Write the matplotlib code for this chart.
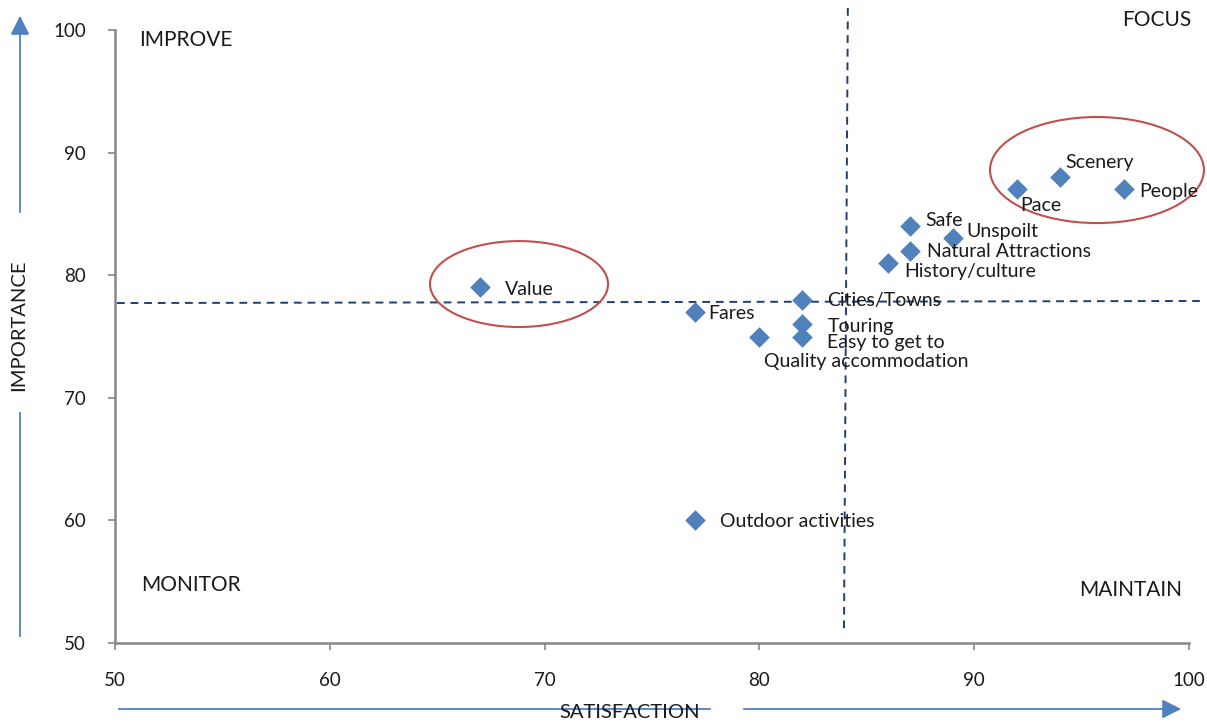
import matplotlib
matplotlib.use("Agg")
import matplotlib.pyplot as plt
from matplotlib.patches import Ellipse, FancyArrowPatch
from matplotlib.lines import Line2D

plt.rcParams['font.family'] = ['Lato', 'DejaVu Sans']

# Attribute scores
attributes = ["Value", "Fares", "Quality accommodation", "Cities/Towns", "Touring",
              "Easy to get to", "Outdoor activities", "History/culture", "Safe",
              "Natural Attractions", "Unspoilt", "Pace", "Scenery", "People"]
satisfaction = [67, 77, 80, 82, 82, 82, 77, 86, 87, 87, 89, 92, 94, 97]
importance = [79, 77, 75, 78, 76, 75, 60, 81, 84, 82, 83, 87, 88, 87]

# Label offsets (pixels) from each marker
label_offsets = [(25, -2), (13, -1), (5, -25), (25, -1), (25, -2),
                 (25, -6), (25, -1), (16, -9), (16, 6), (17, -1),
                 (14, 7), (3, -16), (5, 15), (15, -2)]

x_ticks = [50, 60, 70, 80, 90, 100]
y_ticks = [50, 60, 70, 80, 90, 100]

marker_color = "#4F81BD"
line_color = "#1F3F73"
ring_color = "#C0504D"
axis_color = "#868686"
text_color = "#1A1A1A"

fig = plt.figure(figsize=(12.07, 7.22), dpi=100)
ax = fig.add_axes([0.0953, 0.1094, 0.8897, 0.849])

ax.scatter(satisfaction, importance, marker="D", s=110, color=marker_color,
           zorder=3, linewidths=0)

for name, x, y, (dx, dy) in zip(attributes, satisfaction, importance, label_offsets):
    ax.annotate(name, (x, y), xytext=(dx, dy), textcoords="offset pixels",
                ha="left", va="center", fontsize=14, color=text_color, zorder=4)

ax.set_xlim(50, 100)
ax.set_ylim(50, 100)
ax.set_xticks(x_ticks)
ax.set_yticks(y_ticks)
ax.tick_params(axis="both", colors=axis_color, labelcolor=text_color,
               labelsize=13.5, length=5, width=1.2)
ax.tick_params(axis="x", pad=16)
ax.tick_params(axis="y", pad=16)
for side in ("top", "right"):
    ax.spines[side].set_visible(False)
for side in ("left", "bottom"):
    ax.spines[side].set_color(axis_color)
    ax.spines[side].set_linewidth(1.8)

# Quadrant divider lines
ax.add_line(Line2D([84.12, 83.94], [101.8, 50.9], color=line_color, lw=1.4,
                   ls=(0, (4, 3)), clip_on=False, zorder=2))
ax.add_line(Line2D([50.09, 100.51], [77.73, 77.9], color=line_color, lw=1.4,
                   ls=(0, (4, 3)), clip_on=False, zorder=2))

# Highlight rings
ax.add_patch(Ellipse((68.81, 79.28), 8.29, 7.01, fill=False, edgecolor=ring_color,
                     lw=1.5, clip_on=False, zorder=2))
ax.add_patch(Ellipse((95.72, 88.58), 9.96, 8.65, fill=False, edgecolor=ring_color,
                     lw=1.5, clip_on=False, zorder=2))

# Quadrant names
W, H = 1207, 722
def fx(px): return px / W
def fy(py): return 1 - py / H

fig.text(fx(139), fy(40), "IMPROVE", ha="left", va="center", fontsize=15, color=text_color)
fig.text(fx(1191), fy(20), "FOCUS", ha="right", va="center", fontsize=15, color=text_color)
fig.text(fx(141), fy(585), "MONITOR", ha="left", va="center", fontsize=15, color=text_color)
fig.text(fx(1182), fy(590), "MAINTAIN", ha="right", va="center", fontsize=15, color=text_color)

# Axis arrows and titles
arrow_color = "#4F81BD"
head = "-|>,head_length=5.8,head_width=2.9"
fig.add_artist(FancyArrowPatch((fx(20), fy(215)), (fx(20), fy(13)),
                               transform=fig.transFigure, arrowstyle=head,
                               color=arrow_color, lw=1.3, mutation_scale=2))
fig.add_artist(Line2D([fx(20), fx(20)], [fy(413), fy(636)], transform=fig.transFigure,
                      color=arrow_color, lw=1.3))
fig.add_artist(Line2D([fx(119), fx(710)], [fy(709), fy(709)], transform=fig.transFigure,
                      color=arrow_color, lw=1.3))
fig.add_artist(FancyArrowPatch((fx(741), fy(709)), (fx(1184), fy(709)),
                               transform=fig.transFigure, arrowstyle=head,
                               color=arrow_color, lw=1.3, mutation_scale=2))
fig.text(fx(19), fy(325), "IMPORTANCE", rotation=90, ha="center", va="center",
         fontsize=14.5, color=text_color)
fig.text(fx(630), fy(712), "SATISFACTION", ha="center", va="center",
         fontsize=14.5, color=text_color)

fig.savefig("out.png", dpi=100)
